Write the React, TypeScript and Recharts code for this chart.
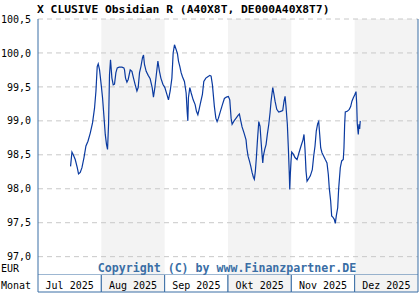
import { LineChart, Line, XAxis, YAxis, ReferenceArea, ReferenceLine } from 'recharts'

// month slots on the x axis, 0 = 1 Jul 2025
const monthLabels = ['Jul 2025', 'Aug 2025', 'Sep 2025', 'Okt 2025', 'Nov 2025', 'Dez 2025']
const shadedMonths = [1, 3, 5]
const yTicks = [97.0, 97.5, 98.0, 98.5, 99.0, 99.5, 100.0, 100.5]

// position in months since 1 Jul, price in EUR
const positions = [
  0.514, 0.536, 0.557, 0.588, 0.62, 0.64, 0.667, 0.694, 0.726, 0.757, 0.789, 0.825, 0.861, 0.893, 0.915, 0.935,
  0.951, 0.972, 0.998, 1.019, 1.041, 1.062, 1.082, 1.098, 1.114, 1.129, 1.145, 1.167, 1.188, 1.208, 1.23, 1.251,
  1.282, 1.325, 1.356, 1.366, 1.382, 1.404, 1.424, 1.456, 1.483, 1.508, 1.535, 1.562, 1.582, 1.603, 1.625, 1.65,
  1.666, 1.681, 1.708, 1.74, 1.771, 1.803, 1.823, 1.845, 1.866, 1.893, 1.918, 1.94, 1.972, 2.003, 2.035, 2.06,
  2.087, 2.114, 2.134, 2.155, 2.181, 2.202, 2.218, 2.24, 2.26, 2.281, 2.312, 2.339, 2.355, 2.366, 2.375, 2.397,
  2.419, 2.45, 2.481, 2.502, 2.524, 2.544, 2.565, 2.596, 2.618, 2.65, 2.681, 2.713, 2.733, 2.754, 2.785, 2.808,
  2.828, 2.849, 2.88, 2.912, 2.943, 2.975, 3.006, 3.028, 3.049, 3.065, 3.096, 3.128, 3.159, 3.18, 3.202, 3.222,
  3.254, 3.285, 3.297, 3.317, 3.338, 3.36, 3.38, 3.401, 3.416, 3.432, 3.448, 3.464, 3.486, 3.506, 3.522, 3.538,
  3.549, 3.558, 3.58, 3.601, 3.621, 3.644, 3.664, 3.68, 3.696, 3.707, 3.722, 3.743, 3.77, 3.801, 3.833, 3.864,
  3.885, 3.901, 3.916, 3.937, 3.953, 3.968, 3.975, 3.984, 3.995, 4.006, 4.032, 4.058, 4.09, 4.121, 4.153, 4.184,
  4.2, 4.216, 4.232, 4.248, 4.268, 4.3, 4.331, 4.353, 4.374, 4.394, 4.416, 4.432, 4.448, 4.464, 4.484, 4.511,
  4.536, 4.563, 4.584, 4.599, 4.621, 4.637, 4.658, 4.678, 4.694, 4.71, 4.732, 4.748, 4.773, 4.795, 4.82, 4.831,
  4.842, 4.852, 4.883, 4.915, 4.937, 4.957, 4.979, 5.0, 5.021, 5.032, 5.041, 5.057, 5.068, 5.079, 5.088,
]
const prices = [
  98.33, 98.54, 98.5, 98.43, 98.31, 98.22, 98.24, 98.31, 98.46, 98.63, 98.7, 98.82, 98.97, 99.19, 99.44, 99.8,
  99.84, 99.75, 99.53, 99.34, 99.07, 98.8, 98.65, 98.58, 98.95, 99.68, 99.9, 99.63, 99.53, 99.54, 99.71, 99.78,
  99.79, 99.79, 99.78, 99.75, 99.63, 99.57, 99.61, 99.75, 99.73, 99.63, 99.53, 99.44, 99.49, 99.71, 99.8, 99.93,
  99.97, 99.83, 99.73, 99.67, 99.62, 99.49, 99.35, 99.49, 99.66, 99.88, 99.73, 99.63, 99.54, 99.49, 99.39, 99.31,
  99.44, 99.63, 100.0, 100.12, 100.05, 99.99, 99.88, 99.8, 99.71, 99.65, 99.58, 99.41, 99.14, 99.0, 99.34, 99.49,
  99.41, 99.31, 99.24, 99.14, 99.09, 99.17, 99.26, 99.39, 99.58, 99.63, 99.65, 99.67, 99.66, 99.53, 99.21, 99.04,
  98.99, 99.04, 99.14, 99.24, 99.33, 99.35, 99.36, 99.31, 99.04, 98.95, 99.0, 99.04, 99.08, 99.1, 99.0, 98.91,
  98.82, 98.72, 98.6, 98.48, 98.41, 98.33, 98.24, 98.17, 98.14, 98.26, 98.46, 98.7, 98.99, 98.92, 98.7, 98.5,
  98.38, 98.48, 98.58, 98.65, 98.8, 98.95, 99.12, 99.29, 99.41, 99.49, 99.41, 99.29, 99.17, 99.13, 99.14, 99.15,
  99.29, 99.36, 99.21, 98.95, 98.6, 98.21, 97.99, 98.21, 98.41, 98.54, 98.51, 98.46, 98.43, 98.53, 98.63, 98.72,
  98.8, 98.58, 98.26, 98.11, 98.14, 98.19, 98.28, 98.48, 98.63, 98.85, 98.96, 98.99, 98.8, 98.6, 98.53, 98.48,
  98.43, 98.38, 98.21, 98.01, 97.82, 97.6, 97.58, 97.55, 97.49, 97.6, 97.72, 98.01, 98.31, 98.41, 98.43, 98.6,
  98.95, 99.13, 99.14, 99.17, 99.21, 99.29, 99.34, 99.38, 99.43, 99.26, 98.96, 98.8, 98.95, 98.88, 99.0,
]

const data = positions.map((pos, i) => ({ pos, price: prices[i] }))

const FRAME = '#3a6ea5'
const MONO = '"DejaVu Sans Mono", monospace'
const MONTH_W = 380 / monthLabels.length

function MonthTick(props: any) {
  const { x, y, payload } = props
  const idx = Math.floor(payload.value)
  const left = x - MONTH_W / 2
  return (
    <g>
      <rect x={left} y={y} width={MONTH_W} height={17} fill={shadedMonths.includes(idx) ? '#f3f3f3' : '#fff'} />
      <line x1={left} x2={left} y1={y} y2={y + 17} stroke={FRAME} />
      <line x1={left + MONTH_W} x2={left + MONTH_W} y1={y} y2={y + 17} stroke={FRAME} />
      <line x1={left} x2={left + MONTH_W} y1={y + 17} y2={y + 17} stroke={FRAME} />
      <text x={x} y={y + 13.5} textAnchor="middle" fontSize={10} fontFamily={MONO} fill="#000">
        {monthLabels[idx]}
      </text>
    </g>
  )
}

function PriceTick(props: any) {
  const { y, payload } = props
  return (
    <text x={31} y={y + 3.6} textAnchor="end" fontSize={10} fontFamily={MONO} fill="#000">
      {payload.value.toFixed(1).replace('.', ',')}
    </text>
  )
}

export default function App() {
  return (
    <div style={{ position: 'absolute', left: 0, top: 0, width: 420, height: 300, background: '#fff' }}>
      <LineChart width={420} height={300} data={data} margin={{ top: 19, right: 2, bottom: 8, left: 0 }}>
        {shadedMonths.map(m => (
          <ReferenceArea key={m} x1={m} x2={m + 1} fill="#f3f3f3" fillOpacity={1} stroke="none" />
        ))}
        {yTicks.map(t => (
          <ReferenceLine key={t} y={t} stroke="#c8c8c8" strokeDasharray="5 4" />
        ))}
        <XAxis
          type="number"
          dataKey="pos"
          domain={[0, 6]}
          ticks={[0.5, 1.5, 2.5, 3.5, 4.5, 5.5]}
          interval={0}
          height={17}
          tickSize={0}
          tickMargin={0}
          tickLine={false}
          axisLine={{ stroke: FRAME }}
          tick={<MonthTick />}
        />
        <YAxis
          domain={[96.73, 100.5]}
          ticks={yTicks}
          width={38}
          tickLine={false}
          axisLine={{ stroke: FRAME }}
          tick={<PriceTick />}
          allowDataOverflow
        />
        <ReferenceLine x={6} stroke={FRAME} />
        <Line type="linear" dataKey="price" stroke="#0a3aa0" strokeWidth={1.2} dot={false} isAnimationActive={false} />
      </LineChart>
      <svg width={420} height={300} style={{ position: 'absolute', left: 0, top: 0, pointerEvents: 'none' }}>
        <text x={37} y={12.5} fontSize={11.3} fontWeight="bold" fontFamily={MONO} fill="#000">
          X CLUSIVE Obsidian R (A40X8T, DE000A40X8T7)
        </text>
        <text x={1} y={271.5} fontSize={10} fontFamily={MONO} fill="#000">EUR</text>
        <text x={1} y={288.5} fontSize={10} fontFamily={MONO} fill="#000">Monat</text>
        <text x={227} y={271.5} textAnchor="middle" fontSize={11.6} fontWeight="bold" fontFamily={MONO} fill={FRAME}>
          Copyright (C) by www.Finanzpartner.DE
        </text>
      </svg>
    </div>
  )
}
